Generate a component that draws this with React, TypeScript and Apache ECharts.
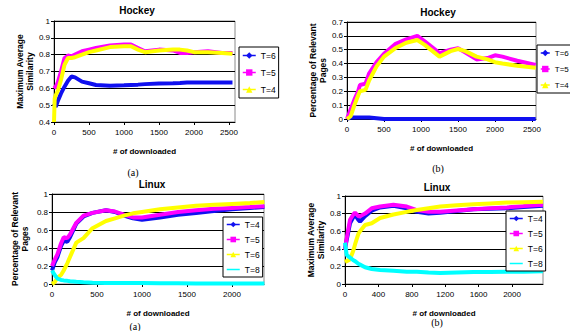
import React, { useEffect, useRef } from "react";
import * as echarts from "echarts";

// ---------- Data ----------
// (a) Hockey – Maximum Average Similarity
const hSimX = [0, 10, 25, 50, 100, 150, 200, 250, 300, 400, 500, 600, 800, 1000, 1100, 1200, 1300, 1500, 1700, 1800, 1900, 2000, 2200, 2400, 2550];
const hSimT6 = [0.51, 0.5, 0.49, 0.52, 0.57, 0.61, 0.645, 0.67, 0.665, 0.64, 0.63, 0.62, 0.615, 0.618, 0.62, 0.622, 0.625, 0.628, 0.63, 0.632, 0.635, 0.635, 0.635, 0.635, 0.635];
const hSimT5 = [0.6, 0.6, 0.61, 0.63, 0.7, 0.78, 0.795, 0.79, 0.8, 0.82, 0.83, 0.84, 0.855, 0.86, 0.86, 0.84, 0.82, 0.83, 0.825, 0.81, 0.81, 0.815, 0.82, 0.81, 0.81];
const hSimT4 = [0.4, 0.54, 0.56, 0.58, 0.65, 0.74, 0.78, 0.78, 0.785, 0.8, 0.815, 0.825, 0.845, 0.85, 0.85, 0.83, 0.815, 0.825, 0.83, 0.83, 0.825, 0.815, 0.815, 0.81, 0.805];

// (b) Hockey – Percentage of Relevant Pages
const hRelX = [0, 50, 100, 150, 175, 250, 300, 400, 500, 650, 800, 950, 1050, 1250, 1400, 1500, 1600, 1750, 1900, 2000, 2100, 2300, 2550];
const hRelT6 = [0, 0.01, 0.01, 0.01, 0.01, 0.01, 0.01, 0.005, 0, 0, 0, 0, 0, 0, 0, 0, 0, 0, 0, 0, 0, 0, 0];
const hRelT5 = [0, 0.07, 0.14, 0.2, 0.245, 0.255, 0.33, 0.41, 0.47, 0.54, 0.575, 0.6, 0.56, 0.475, 0.5, 0.51, 0.48, 0.43, 0.44, 0.46, 0.45, 0.42, 0.39];
const hRelT4 = [0, 0.02, 0.1, 0.17, 0.2, 0.21, 0.28, 0.38, 0.45, 0.51, 0.55, 0.57, 0.535, 0.45, 0.49, 0.505, 0.49, 0.45, 0.43, 0.41, 0.4, 0.385, 0.37];

// (a) Linux – Percentage of Relevant Pages
const lRelX = [0, 30, 60, 100, 130, 170, 200, 270, 350, 450, 600, 700, 800, 900, 1000, 1200, 1400, 1600, 1800, 2000, 2200, 2360];
const lRelT4 = [0.15, 0.24, 0.3, 0.42, 0.48, 0.47, 0.52, 0.67, 0.75, 0.79, 0.82, 0.8, 0.76, 0.73, 0.715, 0.74, 0.77, 0.79, 0.81, 0.83, 0.845, 0.855];
const lRelT5 = [0.2, 0.27, 0.33, 0.45, 0.52, 0.51, 0.55, 0.68, 0.76, 0.79, 0.82, 0.805, 0.77, 0.74, 0.74, 0.77, 0.8, 0.82, 0.835, 0.845, 0.855, 0.865];
const lRelT6 = [0, 0.02, 0.07, 0.1, 0.15, 0.23, 0.3, 0.46, 0.51, 0.62, 0.7, 0.73, 0.76, 0.785, 0.8, 0.83, 0.85, 0.87, 0.88, 0.89, 0.9, 0.91];
const lRelT8 = [0.15, 0.1, 0.06, 0.045, 0.04, 0.035, 0.03, 0.025, 0.02, 0.015, 0.01, 0.01, 0.01, 0.01, 0.01, 0.008, 0.008, 0.006, 0.006, 0.005, 0.005, 0.005];

// (b) Linux – Maximum Average Similarity
const lSimX = [0, 20, 60, 100, 120, 160, 180, 240, 320, 420, 580, 740, 860, 1000, 1140, 1340, 1540, 1740, 1940, 2140, 2370];
const lSimT4 = [0.4, 0.5, 0.69, 0.76, 0.785, 0.73, 0.71, 0.77, 0.834, 0.87, 0.89, 0.86, 0.82, 0.8, 0.81, 0.83, 0.85, 0.855, 0.86, 0.875, 0.89];
const lSimT5 = [0.39, 0.52, 0.73, 0.79, 0.81, 0.77, 0.77, 0.8, 0.86, 0.88, 0.9, 0.88, 0.84, 0.82, 0.82, 0.835, 0.85, 0.86, 0.87, 0.885, 0.9];
const lSimT6 = [0.25, 0.26, 0.28, 0.38, 0.45, 0.57, 0.6, 0.67, 0.69, 0.75, 0.79, 0.82, 0.84, 0.86, 0.88, 0.895, 0.905, 0.915, 0.925, 0.93, 0.935];
const lSimT8 = [0.47, 0.33, 0.3, 0.27, 0.26, 0.23, 0.22, 0.19, 0.17, 0.16, 0.15, 0.14, 0.14, 0.13, 0.125, 0.13, 0.135, 0.135, 0.14, 0.14, 0.145];

const titles = ["Hockey", "Hockey", "Linux", "Linux"];
const captions = ["(a)", "(b)", "(a)", "(b)"];
const yNames = ["Maximum Average\nSimilarity", "Percentage of Relevant\nPages", "Percentage of Relevant\nPages", "Maximum Average\nSimilarity"];
const xName = "# of downloaded";

const BLUE = "#1010f0";
const MAGENTA = "#ff00ff";
const YELLOW = "#ffff00";
const CYAN = "#00ffff";
const XPATH = "path://M0,0 L10,10 M10,0 L0,10 M5,0 L5,10";

const FONT = "Liberation Sans";

const zip = (xs: number[], ys: number[]) => xs.map((x, i) => [x, ys[i]]);

export default function App() {
  const ref = useRef<HTMLDivElement>(null);
  useEffect(() => {
    if (!ref.current) return;
    const chart = echarts.init(ref.current, null, { renderer: "svg" });

    const grids = [
      { left: 54, top: 21, width: 181, height: 101 },
      { left: 347, top: 22, width: 189, height: 97 },
      { left: 52, top: 194, width: 212, height: 90 },
      { left: 345, top: 196, width: 198, height: 88 },
    ];
    const xMax = [2586, 2554, 2356, 2371];
    const xInt = [500, 500, 500, 400];
    const yMin = [0.4, 0, 0, 0];
    const yMax = [1, 0.7, 1, 1];
    const yInt = [0.1, 0.1, 0.2, 0.2];
    const yNameGap = [19, 19, 22, 18];

    const mk = (gi: number, name: string, color: string, symbol: string, xs: number[], ys: number[]) => ({
      type: "line",
      name,
      xAxisIndex: gi,
      yAxisIndex: gi,
      data: zip(xs, ys),
      showSymbol: false,
      symbol,
      symbolSize: 5,
      lineStyle: { color, width: 4 },
      itemStyle: { color },
      color,
      silent: true,
    });

    const series = [
      mk(0, "a|T=6", BLUE, "diamond", hSimX, hSimT6),
      mk(0, "a|T=5", MAGENTA, "rect", hSimX, hSimT5),
      mk(0, "a|T=4", YELLOW, "triangle", hSimX, hSimT4),
      mk(1, "b|T=6", BLUE, "diamond", hRelX, hRelT6),
      mk(1, "b|T=5", MAGENTA, "rect", hRelX, hRelT5),
      mk(1, "b|T=4", YELLOW, "triangle", hRelX, hRelT4),
      mk(2, "c|T=4", BLUE, "diamond", lRelX, lRelT4),
      mk(2, "c|T=5", MAGENTA, "rect", lRelX, lRelT5),
      mk(2, "c|T=6", YELLOW, "triangle", lRelX, lRelT6),
      mk(2, "c|T=8", CYAN, XPATH, lRelX, lRelT8),
      mk(3, "d|T=4", BLUE, "diamond", lSimX, lSimT4),
      mk(3, "d|T=5", MAGENTA, "rect", lSimX, lSimT5),
      mk(3, "d|T=6", YELLOW, "triangle", lSimX, lSimT6),
      mk(3, "d|T=8", CYAN, XPATH, lSimX, lSimT8),
    ];

    const legendPos = [
      { left: 239, top: 47, big: true, iw: 13, fs: 8.5, data: ["a|T=6", "a|T=5", "a|T=4"] },
      { left: 537, top: 45, big: true, iw: 9, fs: 8, data: ["b|T=6", "b|T=5", "b|T=4"] },
      { left: 223, top: 217, big: false, iw: 13, fs: 8.5, data: ["c|T=4", "c|T=5", "c|T=6", "c|T=8"] },
      { left: 506, top: 211, big: false, iw: 13, fs: 8.5, data: ["d|T=4", "d|T=5", "d|T=6", "d|T=8"] },
    ];

    const titlePos = [
      [137, 10],
      [438, 12],
      [152, 184],
      [437, 187],
    ];
    const capPos = [
      [133, 172],
      [438, 168],
      [135, 326],
      [437, 322],
    ];

    chart.setOption({
      animation: false,
      grid: grids.map((g) => ({ ...g, show: true, borderColor: "#8a8a8a", borderWidth: 1, backgroundColor: "#fff" })),
      xAxis: grids.map((_, i) => ({
        type: "value",
        gridIndex: i,
        min: 0,
        max: xMax[i],
        interval: xInt[i],
        name: xName,
        nameLocation: "middle",
        nameGap: 25,
        nameTextStyle: { fontFamily: FONT, fontSize: 8, fontWeight: "bold", color: "#000" },
        axisLine: { lineStyle: { color: "#000", width: 1 } },
        axisTick: { show: true, length: 3, lineStyle: { color: "#000" } },
        axisLabel: { fontFamily: FONT, fontSize: 8, color: "#000", margin: 6, showMaxLabel: false, formatter: (v: number) => String(v) },
        splitLine: { show: false },
      })),
      yAxis: grids.map((_, i) => ({
        type: "value",
        gridIndex: i,
        min: yMin[i],
        max: yMax[i],
        interval: yInt[i],
        name: yNames[i],
        nameLocation: "middle",
        nameRotate: 90,
        nameGap: yNameGap[i],
        nameTextStyle: { fontFamily: FONT, fontSize: 8.5, fontWeight: "bold", color: "#000", lineHeight: 10 },
        axisLine: { show: true, lineStyle: { color: "#000", width: 1 } },
        axisTick: { show: true, length: 3, lineStyle: { color: "#000" } },
        axisLabel: { fontFamily: FONT, fontSize: 8, color: "#000", margin: 4 },
        splitLine: { show: true, lineStyle: { color: "#000", width: 1 } },
      })),
      legend: legendPos.map((l) => ({
        orient: "vertical",
        left: l.left,
        top: l.top,
        data: l.data,
        formatter: (n: string) => n.split("|")[1],
        backgroundColor: "#fff",
        borderColor: "#000",
        borderWidth: 1,
        borderRadius: 0,
        padding: l.big ? [4, 3, 4, 3] : [3, 3, 3, 3],
        itemGap: l.big ? 8 : 6,
        itemWidth: l.iw,
        itemHeight: l.big ? 8 : 7,
        lineStyle: { width: 1.5 },
        textStyle: { fontFamily: FONT, fontSize: l.fs, color: "#000" },
        selectedMode: false,
      })),
      graphic: [
        ...titles.map((t, i) => ({
          type: "text",
          x: titlePos[i][0],
          y: titlePos[i][1],
          style: { text: t, fontFamily: FONT, fontSize: 10, fontWeight: "bold", fill: "#000", textAlign: "center", textVerticalAlign: "middle" },
        })),
        ...captions.map((t, i) => ({
          type: "text",
          x: capPos[i][0],
          y: capPos[i][1],
          style: { text: t, fontFamily: "Liberation Serif", fontSize: 10, fill: "#000", textAlign: "center", textVerticalAlign: "middle" },
        })),
      ],
      series,
    });
    return () => chart.dispose();
  }, []);
  return <div ref={ref} style={{ position: "fixed", left: 0, top: 0, width: 570, height: 331, background: "#fff" }} />;
}
